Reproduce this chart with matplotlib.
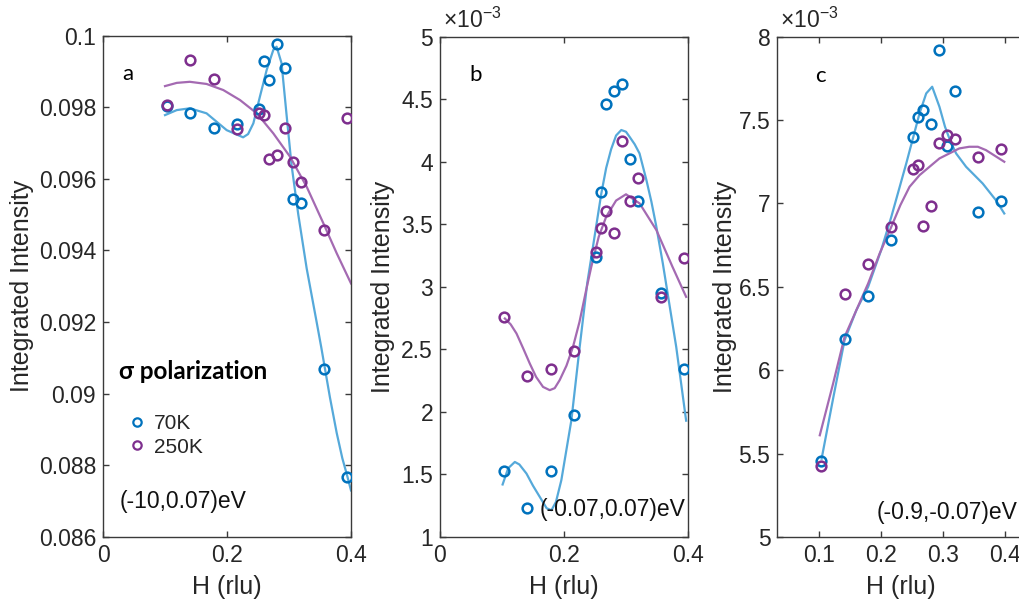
import matplotlib
matplotlib.use("Agg")
import matplotlib.pyplot as plt
from matplotlib.ticker import FormatStrFormatter
from matplotlib.lines import Line2D

plt.rcParams['font.family'] = ['Liberation Sans', 'DejaVu Sans']
plt.rcParams['mathtext.fontset'] = 'custom'
plt.rcParams['mathtext.rm'] = 'Liberation Sans'
plt.rcParams['mathtext.it'] = 'Liberation Sans:italic'

# ---------------- data ----------------
H = [0.103, 0.141, 0.179, 0.216, 0.251, 0.260, 0.268, 0.281, 0.294, 0.306, 0.319, 0.357, 0.394]

a_70K = [0.09803, 0.09785, 0.09742, 0.09753, 0.09795, 0.0993, 0.09876, 0.09976, 0.09909, 0.09543, 0.09532, 0.09069, 0.08767]
a_250K = [0.09806, 0.09932, 0.09878, 0.09738, 0.09785, 0.09778, 0.09656, 0.09667, 0.09742, 0.09648, 0.09592, 0.09457, 0.0977]

b_70K = [1.528, 1.232, 1.528, 1.974, 3.24, 3.76, 4.46, 4.568, 4.62, 4.02, 3.688, 2.947, 2.34]
b_250K = [2.755, 2.286, 2.347, 2.486, 3.275, 3.467, 3.608, 3.427, 4.168, 3.688, 3.867, 2.92, 3.232]

c_70K = [5.457, 6.19, 6.444, 6.78, 7.397, 7.516, 7.56, 7.474, 7.92, 7.346, 7.674, 6.947, 7.014]
c_250K = [5.427, 6.46, 6.64, 6.86, 7.205, 7.23, 6.866, 6.986, 7.36, 7.41, 7.386, 7.276, 7.326]

# fitted curves
a_fit70_H = [0.100, 0.119, 0.140, 0.167, 0.1995, 0.226, 0.234, 0.2425, 0.253, 0.264, 0.2747, 0.280, 0.288,
             0.296, 0.304, 0.315, 0.3285, 0.3446, 0.352, 0.358, 0.366, 0.377, 0.386, 0.394, 0.400]
a_fit70 = [0.09778, 0.09792, 0.09797, 0.09783, 0.09736, 0.09716, 0.09725, 0.09755, 0.09829, 0.09904, 0.0996,
           0.09969, 0.09923, 0.0978, 0.0964, 0.0950, 0.0935, 0.0920, 0.0913, 0.0907, 0.0899, 0.0889,
           0.0882, 0.0877, 0.0873]
a_fit250_H = [0.100, 0.119, 0.140, 0.167, 0.194, 0.221, 0.248, 0.2747, 0.3016, 0.3285, 0.3554, 0.377, 0.400]
a_fit250 = [0.09859, 0.09868, 0.09871, 0.09865, 0.09848, 0.0982, 0.09783, 0.09727, 0.09662, 0.09578,
            0.09476, 0.09392, 0.09308]

b_fit70_H = [0.101, 0.110, 0.1207, 0.128, 0.1395, 0.150, 0.161, 0.172, 0.1797, 0.187, 0.1957, 0.2119,
             0.2253, 0.2375, 0.2467, 0.2602, 0.268, 0.276, 0.284, 0.2924, 0.300, 0.3057, 0.314, 0.3218,
             0.3326, 0.341, 0.3486, 0.3593, 0.3674, 0.381, 0.397]
b_fit70 = [1.42, 1.55, 1.60, 1.58, 1.507, 1.41, 1.32, 1.23, 1.214, 1.28, 1.454, 1.934,
           2.52, 3.03, 3.32, 3.747, 3.95, 4.10, 4.21, 4.254, 4.24, 4.20, 4.14, 4.067,
           3.86, 3.68, 3.49, 3.19, 2.94, 2.52, 1.93]
b_fit250_H = [0.1046, 0.114, 0.1234, 0.134, 0.1448, 0.155, 0.1662, 0.177, 0.185, 0.193, 0.204, 0.2145,
              0.225, 0.236, 0.244, 0.256, 0.268, 0.284, 0.300, 0.322, 0.349, 0.375, 0.397]
b_fit250 = [2.747, 2.70, 2.627, 2.51, 2.387, 2.28, 2.20, 2.174, 2.19, 2.254, 2.37, 2.52,
            2.72, 2.98, 3.16, 3.40, 3.56, 3.69, 3.74, 3.667, 3.454, 3.16, 2.92]

c_fit70_H = [0.104, 0.1225, 0.141, 0.160, 0.179, 0.200, 0.2164, 0.2405, 0.2619, 0.2727, 0.2823, 0.294,
             0.303, 0.312, 0.3209, 0.337, 0.3637, 0.385, 0.3986]
c_fit70 = [5.47, 5.83, 6.18, 6.36, 6.50, 6.72, 6.92, 7.24, 7.54, 7.66, 7.70, 7.58,
           7.46, 7.37, 7.30, 7.22, 7.12, 7.02, 6.94]
c_fit250_H = [0.101, 0.1225, 0.141, 0.160, 0.179, 0.1976, 0.2164, 0.231, 0.2458, 0.262, 0.278, 0.294,
              0.310, 0.326, 0.342, 0.356, 0.369, 0.3986]
c_fit250 = [5.61, 5.92, 6.20, 6.36, 6.52, 6.70, 6.86, 6.99, 7.10, 7.17, 7.22, 7.27,
            7.30, 7.33, 7.34, 7.34, 7.32, 7.25]

a_yticks = [0.086, 0.088, 0.090, 0.092, 0.094, 0.096, 0.098, 0.100]
b_yticks = [1, 1.5, 2, 2.5, 3, 3.5, 4, 4.5, 5]
c_yticks = [5, 5.5, 6, 6.5, 7, 7.5, 8]
ab_xticks = [0, 0.2, 0.4]
c_xticks = [0.1, 0.2, 0.3, 0.4]

series_labels = ['70K', '250K']

# ---------------- style ----------------
BLUE_M = '#0072BD'
PURP_M = '#7E2F8E'
BLUE_L = '#55A9DA'
PURP_L = '#A46AB2'
AXC = '#3a3a3a'
TXT = '#262626'

W, Hh = 1019, 604
fig = plt.figure(figsize=(W / 100, Hh / 100), dpi=100)

def mkax(left_px, top_px, bottom_px, width_px=248):
    return fig.add_axes([left_px / W, (Hh - bottom_px) / Hh, width_px / W, (bottom_px - top_px) / Hh])

axa = mkax(103, 35.6, 537)
axb = mkax(440, 36.7, 537)
axc = mkax(777.3, 36.7, 537)

def style(ax):
    for s in ax.spines.values():
        s.set_color(AXC)
        s.set_linewidth(1.0)
    ax.tick_params(direction='in', top=True, right=True, length=4, width=1.0, color=AXC,
                   labelsize=16.5, labelcolor=TXT, pad=5)
    ax.yaxis.set_major_formatter(FormatStrFormatter('%g'))
    ax.xaxis.set_major_formatter(FormatStrFormatter('%g'))
    ax.set_xlabel('H (rlu)', fontsize=18, color=TXT)
    ax.set_ylabel('Integrated Intensity', fontsize=18, color=TXT)
    ax.xaxis.set_label_coords(0.5, -0.075)

def draw(ax, y70, y250, f70h, f70, f250h, f250):
    ax.plot(H, y70, 'o', ms=7, mfc='none', mec=BLUE_M, mew=1.8, zorder=3)
    ax.plot(H, y250, 'o', ms=7, mfc='none', mec=PURP_M, mew=1.8, zorder=3)
    ax.plot(f70h, f70, '-', color=BLUE_L, lw=1.6, zorder=2)
    ax.plot(f250h, f250, '-', color=PURP_L, lw=1.6, zorder=2)

draw(axa, a_70K, a_250K, a_fit70_H, a_fit70, a_fit250_H, a_fit250)
draw(axb, b_70K, b_250K, b_fit70_H, b_fit70, b_fit250_H, b_fit250)
draw(axc, c_70K, c_250K, c_fit70_H, c_fit70, c_fit250_H, c_fit250)

for ax in (axa, axb, axc):
    style(ax)

axa.set_xlim(0, 0.4); axa.set_ylim(0.086, 0.1)
axa.set_xticks(ab_xticks); axa.set_yticks(a_yticks)
axb.set_xlim(0, 0.4); axb.set_ylim(1, 5)
axb.set_xticks(ab_xticks); axb.set_yticks(b_yticks)
axc.set_xlim(0.0325, 0.4325); axc.set_ylim(5, 8)
axc.set_xticks(c_xticks); axc.set_yticks(c_yticks)

axa.yaxis.set_label_coords(-0.279, 0.5)
axb.yaxis.set_label_coords(-0.182, 0.5)
axc.yaxis.set_label_coords(-0.162, 0.5)

for ax in (axb, axc):
    ax.text(0.012, 1.008, r'$\mathregular{\times10^{-3}}$', transform=ax.transAxes,
            fontsize=16.5, color=TXT, ha='left', va='bottom')

# panel letters
LET = ['Lato', 'DejaVu Sans']
axa.text(0.077, 0.923, 'a', transform=axa.transAxes, fontsize=16, family=LET, va='center')
axb.text(0.117, 0.923, 'b', transform=axb.transAxes, fontsize=16, family=LET, va='center')
axc.text(0.152, 0.921, 'c', transform=axc.transAxes, fontsize=16, family=LET, va='center')

axa.text(0.065, 0.33, 'σ polarization', transform=axa.transAxes, fontsize=17.5, fontweight='bold',
         family=LET, va='center')
axa.text(0.069, 0.070, '(-10,0.07)eV', transform=axa.transAxes, fontsize=16.5, color='#111111', va='center')
axb.text(0.403, 0.054, '(-0.07,0.07)eV', transform=axb.transAxes, fontsize=16.5, color='#111111',
         va='center', clip_on=False)
axc.text(0.401, 0.048, '(-0.9,-0.07)eV', transform=axc.transAxes, fontsize=16.5, color='#111111',
         va='center')

handles = [Line2D([], [], ls='none', marker='o', ms=6, mfc='none', mec=BLUE_M, mew=1.6),
           Line2D([], [], ls='none', marker='o', ms=6, mfc='none', mec=PURP_M, mew=1.6)]
leg = axa.legend(handles, series_labels, loc='upper left', bbox_to_anchor=(0.104, 0.245),
                 frameon=False, fontsize=15, handlelength=0.8, handletextpad=0.4,
                 labelspacing=0.22, borderpad=0, borderaxespad=0)
for t in leg.get_texts():
    t.set_color(TXT)

fig.savefig('out.png', dpi=100)
